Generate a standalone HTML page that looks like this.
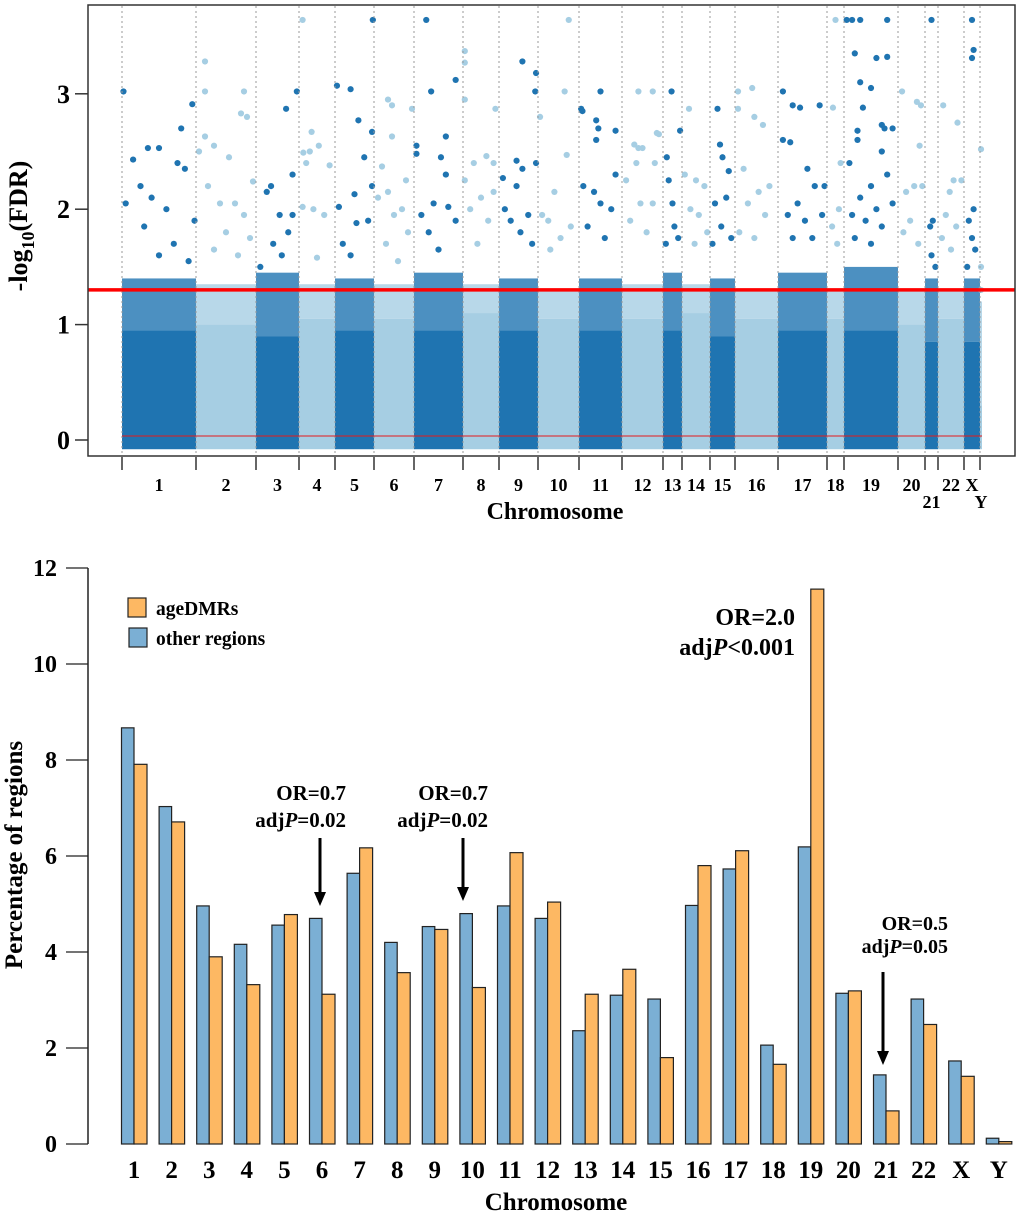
<!DOCTYPE html>
<html><head><meta charset="utf-8"><style>
html,body{margin:0;padding:0;background:#fff}
svg{display:block;font-family:"Liberation Serif",serif;font-weight:bold}
</style></head><body>
<svg id="fig" width="1020" height="1216" viewBox="0 0 1020 1216" xmlns="http://www.w3.org/2000/svg">
<g id="top"></g>
<g id="bot"></g>
</svg>
<script>
// ---------- Manhattan data ----------
const chromNames = ["1","2","3","4","5","6","7","8","9","10","11","12","13","14","15","16","17","18","19","20","21","22","X","Y"];
const chromLengths = [74,60,43,36,39,40,49,36,39,41,43,41,19,28,25,43,49,17,54,27,13,26,16,2];
const solidTop = [0.95,1.0,0.9,1.05,0.95,1.05,0.95,1.1,0.95,1.05,0.95,1.05,0.95,1.1,0.9,1.05,0.95,1.05,0.95,1.0,0.85,1.05,0.85,0.3];
const bandTop = [1.4,1.35,1.45,1.35,1.4,1.35,1.45,1.35,1.4,1.3,1.4,1.35,1.45,1.35,1.4,1.3,1.45,1.3,1.5,1.3,1.4,1.3,1.4,1.2];
const peaks = [
[[0.02,3.02],[0.95,2.91],[0.8,2.7],[0.5,2.53],[0.35,2.53],[0.15,2.43],[0.85,2.35],[0.75,2.4],[0.25,2.2],[0.05,2.05],[0.4,2.1],[0.6,2.0],[0.3,1.85],[0.7,1.7],[0.98,1.9],[0.5,1.6],[0.9,1.55]],
[[0.15,3.28],[0.15,3.02],[0.8,3.02],[0.75,2.83],[0.85,2.8],[0.15,2.63],[0.3,2.55],[0.05,2.5],[0.55,2.45],[0.95,2.24],[0.2,2.2],[0.4,2.05],[0.65,2.05],[0.8,1.95],[0.5,1.8],[0.9,1.75],[0.3,1.65],[0.7,1.6]],
[[0.95,3.02],[0.7,2.87],[0.85,2.3],[0.35,2.2],[0.25,2.15],[0.55,1.95],[0.85,1.95],[0.75,1.8],[0.4,1.7],[0.1,1.5],[0.6,1.6]],
[[0.1,3.64],[0.35,2.67],[0.55,2.55],[0.12,2.49],[0.3,2.5],[0.2,2.4],[0.85,2.38],[0.1,2.02],[0.4,2.0],[0.7,1.95],[0.5,1.58]],
[[0.97,3.64],[0.05,3.07],[0.4,3.04],[0.6,2.77],[0.95,2.67],[0.75,2.45],[0.95,2.2],[0.5,2.13],[0.1,2.02],[0.55,1.88],[0.85,1.9],[0.2,1.7],[0.4,1.6]],
[[0.35,2.95],[0.45,2.9],[0.45,2.63],[0.95,2.87],[0.2,2.37],[0.35,2.15],[0.8,2.25],[0.1,2.1],[0.5,1.95],[0.7,2.0],[0.3,1.7],[0.85,1.8],[0.6,1.55]],
[[0.25,3.64],[0.85,3.12],[0.35,3.02],[0.65,2.63],[0.05,2.55],[0.05,2.48],[0.55,2.45],[0.65,2.3],[0.4,2.05],[0.15,1.95],[0.7,2.02],[0.85,1.9],[0.3,1.8],[0.5,1.65]],
[[0.05,3.37],[0.05,3.27],[0.05,2.95],[0.9,2.87],[0.65,2.46],[0.3,2.4],[0.85,2.4],[0.05,2.25],[0.5,2.1],[0.85,2.15],[0.2,2.0],[0.7,1.9],[0.4,1.7]],
[[0.6,3.28],[0.95,3.18],[0.93,3.02],[0.45,2.42],[0.1,2.27],[0.6,2.35],[0.95,2.4],[0.45,2.2],[0.15,2.0],[0.3,1.9],[0.75,1.95],[0.55,1.8],[0.85,1.7]],
[[0.75,3.64],[0.05,2.8],[0.65,3.02],[0.7,2.47],[0.4,2.15],[0.1,1.95],[0.25,1.9],[0.8,1.85],[0.55,1.75],[0.3,1.65]],
[[0.5,3.02],[0.05,2.87],[0.08,2.85],[0.4,2.77],[0.45,2.7],[0.4,2.6],[0.85,2.68],[0.85,2.3],[0.1,2.2],[0.35,2.15],[0.5,2.05],[0.75,2.0],[0.2,1.85],[0.6,1.75]],
[[0.4,3.02],[0.75,3.02],[0.85,2.66],[0.9,2.65],[0.3,2.56],[0.4,2.53],[0.5,2.53],[0.35,2.4],[0.8,2.4],[0.1,2.25],[0.45,2.05],[0.75,2.05],[0.2,1.9],[0.6,1.8]],
[[0.45,3.02],[0.9,2.68],[0.2,2.45],[0.3,2.25],[0.5,2.05],[0.6,1.85],[0.8,1.75],[0.15,1.7]],
[[0.25,2.87],[0.5,2.25],[0.8,2.2],[0.1,2.3],[0.3,2.0],[0.6,1.95],[0.9,1.8],[0.45,1.7]],
[[0.3,2.87],[0.4,2.56],[0.5,2.45],[0.75,2.33],[0.2,2.05],[0.65,2.1],[0.45,1.85],[0.85,1.75],[0.1,1.7]],
[[0.07,3.02],[0.4,3.05],[0.07,2.87],[0.45,2.8],[0.65,2.73],[0.2,2.35],[0.55,2.15],[0.8,2.2],[0.3,2.05],[0.7,1.95],[0.1,1.8],[0.45,1.75]],
[[0.1,3.02],[0.3,2.9],[0.45,2.88],[0.85,2.9],[0.1,2.6],[0.25,2.58],[0.6,2.35],[0.75,2.2],[0.95,2.2],[0.4,2.05],[0.2,1.95],[0.55,1.9],[0.9,1.95],[0.3,1.75],[0.7,1.75]],
[[0.5,3.64],[0.35,2.88],[0.8,2.4],[0.7,2.0],[0.3,1.85],[0.6,1.7]],
[[0.05,3.64],[0.15,3.64],[0.3,3.64],[0.8,3.64],[0.2,3.35],[0.6,3.31],[0.8,3.32],[0.3,3.1],[0.5,3.05],[0.35,2.88],[0.25,2.68],[0.25,2.6],[0.7,2.73],[0.75,2.7],[0.9,2.7],[0.7,2.5],[0.1,2.4],[0.8,2.3],[0.5,2.2],[0.3,2.1],[0.6,2.0],[0.9,2.05],[0.15,1.95],[0.4,1.9],[0.7,1.85],[0.2,1.75],[0.5,1.7]],
[[0.15,3.02],[0.7,2.93],[0.85,2.9],[0.8,2.55],[0.9,2.2],[0.3,2.15],[0.6,2.2],[0.45,1.9],[0.2,1.8],[0.75,1.7]],
[[0.5,3.64],[0.6,1.9],[0.4,1.85],[0.5,1.6],[0.8,1.5]],
[[0.2,2.9],[0.75,2.75],[0.6,2.25],[0.45,2.15],[0.9,2.25],[0.3,1.95],[0.7,1.85],[0.15,1.75],[0.5,1.65]],
[[0.5,3.64],[0.6,3.38],[0.5,3.31],[0.6,2.0],[0.3,1.9],[0.5,1.75],[0.7,1.65],[0.2,1.5]],
[[0.5,2.52],[0.5,1.5],[0.5,1.3]]
];
const yTicksTop = [0,1,2,3];
const threshold = 1.301;

// ---------- Bar data ----------
const barCats = ["1","2","3","4","5","6","7","8","9","10","11","12","13","14","15","16","17","18","19","20","21","22","X","Y"];
const otherPct = [8.67,7.03,4.96,4.16,4.56,4.70,5.64,4.20,4.53,4.80,4.96,4.70,2.36,3.10,3.02,4.97,5.73,2.06,6.19,3.14,1.44,3.02,1.73,0.12];
const agePct = [7.91,6.71,3.90,3.32,4.78,3.12,6.17,3.57,4.47,3.26,6.07,5.04,3.12,3.64,1.80,5.80,6.11,1.66,11.56,3.19,0.69,2.49,1.41,0.05];
const yTicksBot = [0,2,4,6,8,10,12];

const NS="http://www.w3.org/2000/svg";
function mk(parent,tag,attrs,text){const e=document.createElementNS(NS,tag);for(const k in attrs)e.setAttribute(k,attrs[k]);if(text!==undefined)e.textContent=text;parent.appendChild(e);return e;}

// ===== Manhattan =====
const T=document.getElementById('top');
const X0=122, X1=982, totalLen=chromLengths.reduce((a,b)=>a+b,0);
const xg=v=>X0+(v/totalLen)*(X1-X0);
const yT=v=>440-v*115.4;
const DARK="#1F74B1", LIGHT="#A6CEE3";
let cum=0;
chromLengths.forEach((len,i)=>{
  const s=xg(cum), e=xg(cum+len), col=(i%2===0)?DARK:LIGHT;
  const g=mk(T,'g',{});
  
  
  mk(g,'rect',{x:s,y:yT(solidTop[i]),width:Math.max(e-s,2),height:yT(-0.08)-yT(solidTop[i]),fill:col});
  mk(g,'rect',{x:s,y:yT(bandTop[i]),width:Math.max(e-s,2),height:yT(solidTop[i])-yT(bandTop[i]),fill:col,opacity:0.8});
  peaks[i].forEach(p=>{
    const c=mk(g,'circle',{cx:s+p[0]*(e-s),cy:yT(p[1]),r:3.1,fill:col});
    
    
  });
  cum+=len;
});
cum=0;
for(let i=0;i<chromLengths.length;i++){
  const x=xg(cum);
  mk(T,'line',{x1:x,y1:6,x2:x,y2:455,stroke:"#999","stroke-width":1,"stroke-dasharray":"2,3"});
  const t=mk(T,'line',{x1:x,y1:457,x2:x,y2:470,stroke:"#333","stroke-width":1.5});
  
  
  const mid=xg(cum+chromLengths[i]/2);
  const low=(chromNames[i]==="21"||chromNames[i]==="Y");
  const lab=mk(T,'text',{x:mid,y:low?508:491,"text-anchor":"middle","font-size":18},chromNames[i]);
  
  
  cum+=chromLengths[i];
}
const tl=mk(T,'line',{x1:X0,y1:yT(0.035),x2:X1,y2:yT(0.035),stroke:"#E41A1C","stroke-width":1});


const th=mk(T,'line',{x1:88,y1:yT(threshold),x2:1015,y2:yT(threshold),stroke:"#FF0000","stroke-width":3.5});


const fr=mk(T,'rect',{x:88,y:5,width:927,height:451,fill:"none",stroke:"#333","stroke-width":1.5});


yTicksTop.forEach(v=>{
  mk(T,'line',{x1:75,y1:yT(v),x2:88,y2:yT(v),stroke:"#333","stroke-width":1.5});
  const l=mk(T,'text',{x:70,y:yT(v)+9,"text-anchor":"end","font-size":26},String(v));
  
  
});
const yl=mk(T,'text',{transform:"translate(27,226) rotate(-90)","text-anchor":"middle","font-size":26});


mk(yl,'tspan',{},"-log");
mk(yl,'tspan',{dy:7,"font-size":18},"10");
mk(yl,'tspan',{dy:-7},"(FDR)");
const xl=mk(T,'text',{x:555,y:519,"text-anchor":"middle","font-size":24},"Chromosome");



// ===== Bar chart =====
const B=document.getElementById('bot');
const Y0=1144, PPU=48;
const yB=v=>Y0-v*PPU;
const xc=i=>134+i*37.6;
mk(B,'line',{x1:88,y1:yB(12),x2:88,y2:yB(0),stroke:"#222","stroke-width":1.5});
yTicksBot.forEach(v=>{
  mk(B,'line',{x1:66,y1:yB(v),x2:88,y2:yB(v),stroke:"#222","stroke-width":1.2});
  const l=mk(B,'text',{x:57,y:yB(v)+8,"text-anchor":"end","font-size":24},String(v));
  
  
});
barCats.forEach((c,i)=>{
  const cx=xc(i);
  const b1=mk(B,'rect',{x:cx-12.5,y:yB(otherPct[i]),width:12.5,height:yB(0)-yB(otherPct[i]),fill:"#7BAFD4",stroke:"#222","stroke-width":1.2});
  
  
  const b2=mk(B,'rect',{x:cx,y:yB(agePct[i]),width:13,height:yB(0)-yB(agePct[i]),fill:"#FDB863",stroke:"#222","stroke-width":1.2});
  
  
  const l=mk(B,'text',{x:cx,y:1178,"text-anchor":"middle","font-size":25},c);
  
  
});
const yt=mk(B,'text',{transform:"translate(22,855) rotate(-90)","text-anchor":"middle","font-size":25},"Percentage of regions");


const xt=mk(B,'text',{x:556,y:1210,"text-anchor":"middle","font-size":25},"Chromosome");


const lg=mk(B,'g',{});


mk(lg,'rect',{x:128,y:598,width:18,height:19,fill:"#FDB863",stroke:"#222","stroke-width":1.2});
mk(lg,'text',{x:156,y:615,"font-size":19.5},"ageDMRs");
mk(lg,'rect',{x:129,y:628,width:18,height:19,fill:"#7BAFD4",stroke:"#222","stroke-width":1.2});
mk(lg,'text',{x:156,y:645,"font-size":19.5},"other regions");
function annot(right,y1,y2,l1,pv,size,arrowX,ay1,ay2){
  const g=mk(B,'g',{});
  
  
  mk(g,'text',{x:right,y:y1,"text-anchor":"end","font-size":size},l1);
  const t=mk(g,'text',{x:right,y:y2,"text-anchor":"end","font-size":size});
  mk(t,'tspan',{},"adj");mk(t,'tspan',{"font-style":"italic"},"P");mk(t,'tspan',{},pv);
  if(arrowX!==null){
    mk(g,'line',{x1:arrowX,y1:ay1,x2:arrowX,y2:ay2-12,stroke:"#000","stroke-width":3});
    mk(g,'polygon',{points:`${arrowX-6},${ay2-14} ${arrowX+6},${ay2-14} ${arrowX},${ay2}`,fill:"#000"});
  }
}
annot(346,800,827,"OR=0.7","=0.02",21,320,838,906);
annot(488,800,827,"OR=0.7","=0.02",21,463,838,901);
annot(795,625,655,"OR=2.0","<0.001",24,null);
annot(948,930,953,"OR=0.5","=0.05",20,883,972,1065);
</script>
</body></html>
